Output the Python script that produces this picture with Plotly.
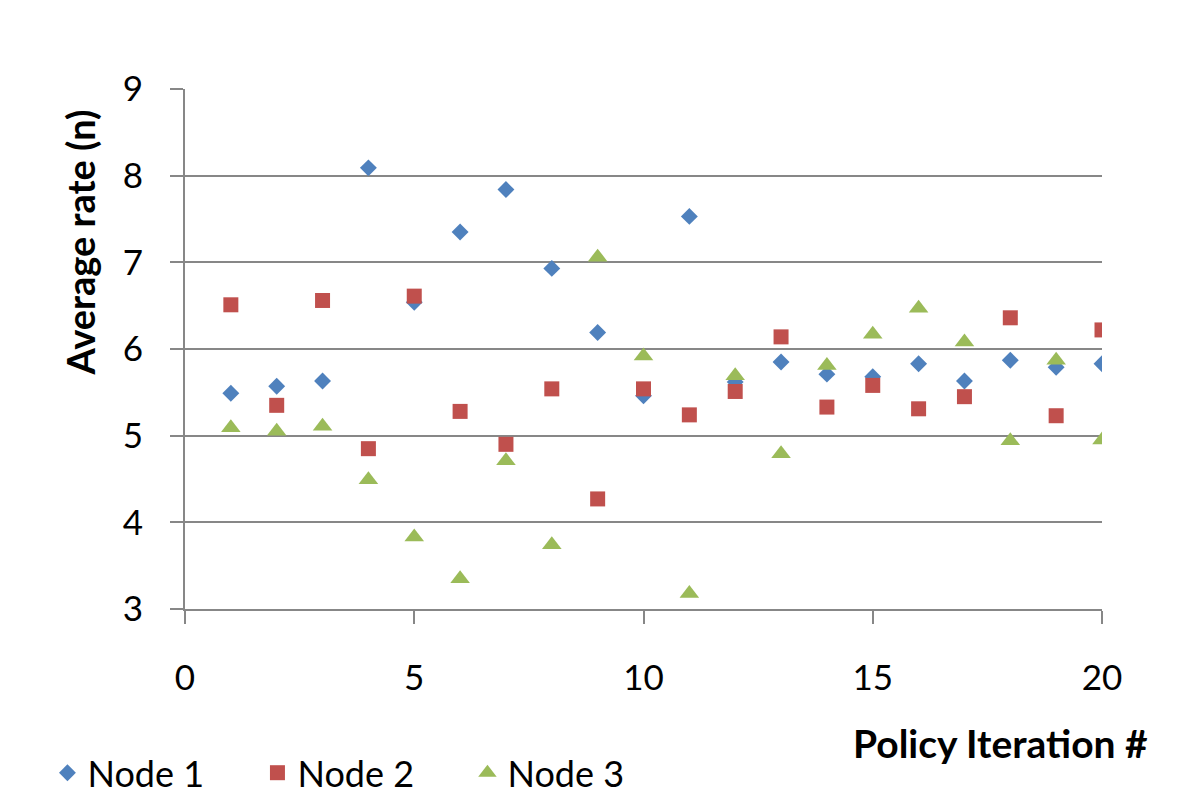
import plotly.graph_objects as go

iterations = list(range(1, 21))
node1 = [5.49, 5.57, 5.63, 8.09, 6.54, 7.35, 7.84, 6.93, 6.19, 5.46,
         7.53, 5.62, 5.85, 5.71, 5.68, 5.83, 5.63, 5.87, 5.79, 5.83]
node2 = [6.51, 5.35, 6.56, 4.85, 6.61, 5.28, 4.90, 5.54, 4.27, 5.54,
         5.24, 5.51, 6.14, 5.33, 5.58, 5.31, 5.45, 6.36, 5.23, 6.22]
node3 = [5.09, 5.05, 5.11, 4.49, 3.83, 3.35, 4.71, 3.74, 7.06, 5.92,
         3.18, 5.69, 4.79, 5.81, 6.17, 6.47, 6.08, 4.94, 5.87, 4.95]

x_ticks = [0, 5, 10, 15, 20]
y_ticks = [3, 4, 5, 6, 7, 8, 9]

FONT = "Lato"
GRID = "#878787"

fig = go.Figure()
fig.add_trace(go.Scatter(x=iterations, y=node1, mode="markers", name="Node 1",
                         marker=dict(symbol="diamond", size=13, color="#4F81BD")))
fig.add_trace(go.Scatter(x=iterations, y=node2, mode="markers", name="Node 2",
                         marker=dict(symbol="square", size=15, color="#C0504D")))
fig.add_trace(go.Scatter(x=iterations, y=node3, mode="markers", name="Node 3",
                         marker=dict(symbol="triangle-up", size=17, color="#9BBB59")))

fig.update_layout(
    width=1192, height=791,
    margin=dict(l=177, r=98, t=81, b=190, autoexpand=False),
    plot_bgcolor="white", paper_bgcolor="white",
    font=dict(family=FONT, size=35, color="black"),
    showlegend=True,
    legend=dict(orientation="h", x=-0.15, xanchor="left", y=-0.315, yanchor="middle",
                font=dict(family=FONT, size=36, color="black"),
                entrywidth=165, entrywidthmode="pixels",
                bgcolor="rgba(0,0,0,0)"),
    xaxis=dict(range=[0, 20], tickvals=x_ticks, showgrid=False, zeroline=False,
               automargin=False,
               showline=True, linecolor=GRID, linewidth=2,
               ticks="outside", ticklen=13, tickwidth=2, tickcolor=GRID,
               ticklabelstandoff=24, tickfont=dict(family=FONT, size=35)),
    yaxis=dict(range=[3, 9], tickvals=y_ticks, showgrid=True, gridcolor=GRID, gridwidth=2,
               automargin=False,
               zeroline=False, showline=True, linecolor=GRID, linewidth=2,
               ticks="outside", ticklen=13, tickwidth=2, tickcolor=GRID,
               ticklabelstandoff=20, tickfont=dict(family=FONT, size=35)),
    annotations=[
        dict(text="<b>Average rate (n)</b>", xref="paper", yref="paper",
             x=-0.115, y=0.704, xanchor="center", yanchor="middle", textangle=-90,
             showarrow=False, font=dict(family=FONT, size=38, color="black")),
        dict(text="<b>Policy Iteration #</b>", xref="paper", yref="paper",
             x=1.052, y=-0.258, xanchor="right", yanchor="middle",
             showarrow=False, font=dict(family=FONT, size=39, color="black")),
    ],
)

fig.write_html("out.html")
